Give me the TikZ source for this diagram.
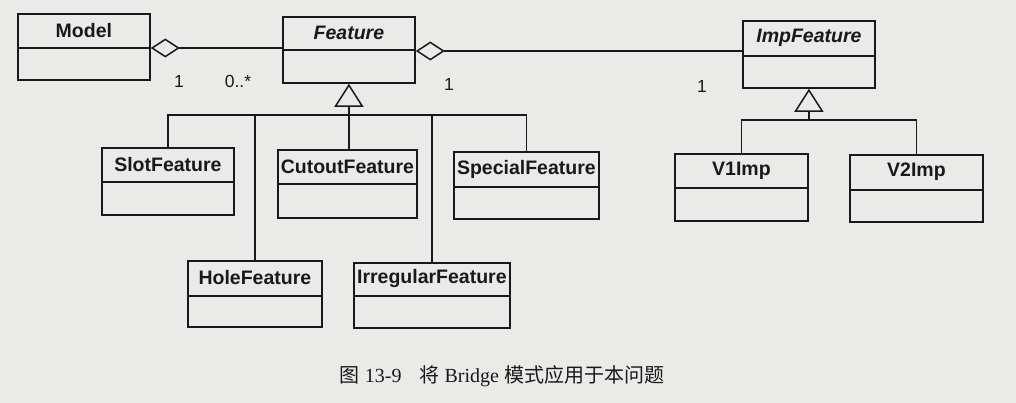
\documentclass[tikz,border=0pt]{standalone}
\usepackage{fontspec}
\setmainfont{Liberation Serif}
\setsansfont{Liberation Sans}
\newfontfamily\cjk{Noto Sans CJK SC}
\usetikzlibrary{arrows.meta,calc}
\definecolor{paper}{RGB}{234,234,232}
\definecolor{ink}{RGB}{25,25,25}
\tikzset{
  clsbox/.style={draw=ink, line width=1.8pt, inner sep=0pt},
  clsline/.style={draw=ink, line width=1.6pt},
  conn/.style={draw=ink, line width=1.4pt},
  agg/.style={conn, {Diamond[open, length=29pt, width=19pt, line width=1.5pt]}-},
  gen/.style={conn, -{Triangle[open, length=23pt, width=29pt, line width=1.5pt]}},
  cname/.style={font=\sffamily\bfseries\fontsize{19.5}{22}\selectfont, text=ink, inner sep=0pt},
  aname/.style={font=\sffamily\bfseries\itshape\fontsize{19.5}{22}\selectfont, text=ink, inner sep=0pt},
  mult/.style={font=\sffamily\fontsize{17.5}{20}\selectfont, text=ink, inner sep=0pt},
}
\newcommand\umlbox[8]{%
  \pgfmathsetmacro\uw{#4-#2}\pgfmathsetmacro\uh{#5-#3}%
  \node[clsbox, minimum width=\uw pt, minimum height=\uh pt, anchor=north west] (#1) at (#2,#3) {};
  \draw[clsline] (#1.west |- 0,#6) -- (#1.east |- 0,#6);
  \node[#8] (#1-t) at ($(#1.north)!0.5!(#1.north |- 0,#6)$) {#7};
}
\begin{document}
\begin{tikzpicture}[x=1pt,y=-1pt]
\fill[paper] (0,0) rectangle (1016,403);
\useasboundingbox (0,0) rectangle (1016,403);

\umlbox{model}{17}{13}{149}{79}{48}{Model}{cname}
\umlbox{feature}{282}{16}{414}{82}{50}{Feature}{aname}
\umlbox{impf}{742}{20}{874}{87}{56}{ImpFeature}{aname}
\umlbox{slot}{101}{147}{233}{214}{182}{SlotFeature}{cname}
\umlbox{cutout}{277}{149}{416}{217}{184}{CutoutFeature}{cname}
\umlbox{special}{453}{151}{598}{218}{187}{SpecialFeature}{cname}
\umlbox{hole}{187}{260}{321}{326}{296}{HoleFeature}{cname}
\umlbox{irreg}{353}{262}{509}{327}{296}{IrregularFeature}{cname}
\umlbox{vone}{674}{153}{807}{220}{188}{V1Imp}{cname}
\umlbox{vtwo}{849}{154}{982}{221}{190}{V2Imp}{cname}

% aggregations
\draw[agg] (model.east |- 0,48) -- (feature.west |- 0,48);
\draw[agg] (feature.east |- 0,51) -- (impf.west |- 0,51);

% multiplicities
\node[mult] (m1) at (179,81) {1};
\node[mult] (m2) at (238,81) {0..*};
\node[mult] (m3) at (449,84) {1};
\node[mult] (m4) at (702,86) {1};

% generalization Feature
\coordinate (fbus) at (feature.south |- 0,115);
\draw[gen] (feature.south |- cutout.north) -- (feature.south);
\draw[conn] (slot.north) |- (fbus) -| (special.north);
\draw[conn] (hole.north) -- (hole.north |- fbus);
\draw[conn] (irreg.north) -- (irreg.north |- fbus);

% generalization ImpFeature
\coordinate (ibus) at (impf.south |- 0,120);
\draw[gen] (ibus) -- (impf.south);
\draw[conn] (vone.north) |- (ibus) -| (vtwo.north);

% caption
\node[text=ink, inner sep=0pt, font=\fontsize{20}{24}\selectfont] (cap) at (502,376)
  {{\cjk 图} 13-9\hspace{0.9em}{\cjk 将} Bridge {\cjk 模式应用于本问题}};
\end{tikzpicture}
\end{document}
